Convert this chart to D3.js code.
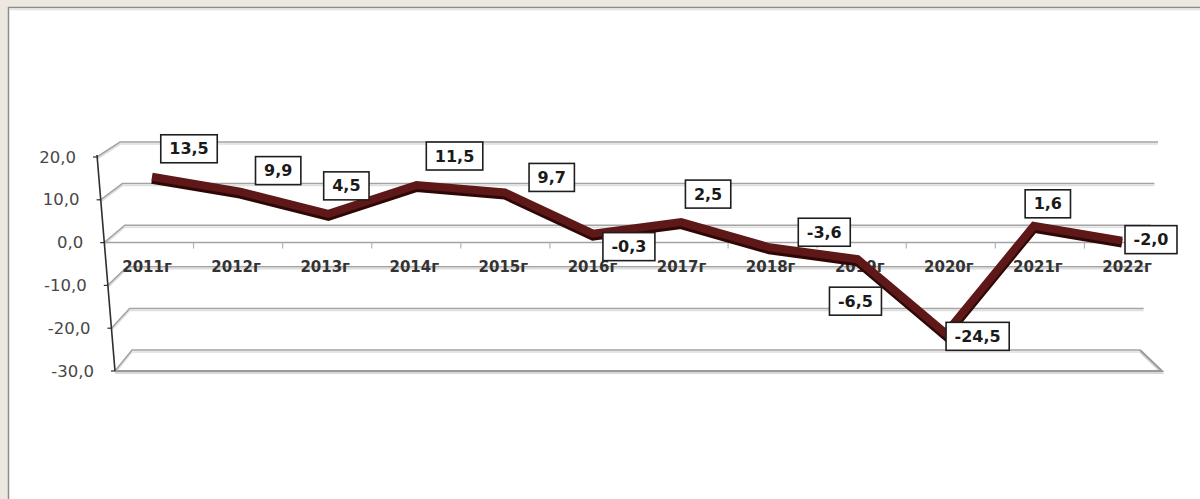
<!DOCTYPE html>
<html>
<head>
<meta charset="utf-8">
<script src="https://cdn.jsdelivr.net/npm/d3@7"></script>
<style>
  html, body { margin: 0; padding: 0; background: #ece8e0; }
  svg { display: block; }
</style>
</head>
<body>
<svg id="chart" width="1200" height="499"></svg>
<script>
// ---- data ----
const categories = ["2011г", "2012г", "2013г", "2014г", "2015г", "2016г",
                    "2017г", "2018г", "2019г", "2020г", "2021г", "2022г"];
const values = [13.5, 9.9, 4.5, 11.5, 9.7, -0.3, 2.5, -3.6, -6.5, -24.5, 1.6, -2.0];
const yTicks = [20, 10, 0, -10, -20, -30];

// ---- layout (label nudges relative to the point) ----
const labelNudge = [[37,-28],[38,-21],[18,-28],[38,-29],[47,-15],[36,13],
                    [27,-28],[55,-15],[-2,42],[32,3],[14,-22],[29,-1]];

const svg = d3.select("#chart");
const fmt = v => d3.format(".1f")(v).replace(".", ",").replace("−", "-");

// chart area frame
svg.append("rect").attr("x", 9).attr("y", 8).attr("width", 1200).attr("height", 500)
  .attr("fill", "#ffffff");
svg.append("line").attr("x1", 8).attr("y1", 7.5).attr("x2", 1200).attr("y2", 7.5)
  .attr("stroke", "#8c8c8c").attr("stroke-width", 1.5);
svg.append("line").attr("x1", 8.5).attr("y1", 7).attr("x2", 8.5).attr("y2", 499)
  .attr("stroke", "#8c8c8c").attr("stroke-width", 1.5);
svg.append("line").attr("x1", 10).attr("y1", 9.5).attr("x2", 1200).attr("y2", 9.5)
  .attr("stroke", "#e4e4e4").attr("stroke-width", 1.5);

// ---- scales (pseudo-3D: front plane, back wall, mid plane for the series) ----
const dom = [-30, 20];
const yFront = d3.scaleLinear().domain(dom).range([371, 157]);
const yBack  = d3.scaleLinear().domain(dom).range([350, 142]);
const yMid   = d3.scaleLinear().domain(dom).range([356, 150]);
const xFrontL = d3.scaleLinear().domain(dom).range([115, 97]);
const xBackL  = d3.scaleLinear().domain(dom).range([132, 120]);
const xBackR  = d3.scaleLinear().domain(dom).range([1140, 1158]);
const xFrontR = d3.scaleLinear().domain(dom).range([1162, 1180]);
const xLine  = d3.scalePoint().domain(categories).range([152, 1122]);
const xLabel = d3.scalePoint().domain(categories).range([147, 1127]);

const grid = svg.append("g");
// back-wall gridlines with their diagonal to the front axis
yTicks.forEach(v => {
  const pts = [[xFrontL(v), yFront(v)], [xBackL(v), yBack(v)], [xBackR(v), yBack(v)]];
  grid.append("path").attr("d", d3.line()(pts.map(p => [p[0], p[1] + 2])))
    .attr("fill", "none").attr("stroke", "#dedede").attr("stroke-width", 1.5);
  grid.append("path").attr("d", d3.line()(pts))
    .attr("fill", "none").attr("stroke", "#a3a3a3").attr("stroke-width", 1.5);
});
// floor front edge and right side
const vMin = dom[0];
const floorPts = [[xFrontL(vMin), yFront(vMin)], [xFrontR(vMin), yFront(vMin)], [xBackR(vMin), yBack(vMin)]];
grid.append("path").attr("d", d3.line()(floorPts.map(p => [p[0], p[1] + 2])))
  .attr("fill", "none").attr("stroke", "#d8d8d8").attr("stroke-width", 2);
grid.append("path").attr("d", d3.line()(floorPts))
  .attr("fill", "none").attr("stroke", "#9a9a9a").attr("stroke-width", 2);

// category axis at zero on the front plane
grid.append("line")
  .attr("x1", xFrontL(0)).attr("y1", yFront(0)).attr("x2", xFrontR(0)).attr("y2", yFront(0))
  .attr("stroke", "#a3a3a3").attr("stroke-width", 1.5);
const step = xLabel.step();
categories.slice(1).forEach(c => {
  const x = xLabel(c) - step / 2 + 2;
  grid.append("line").attr("x1", x).attr("x2", x)
    .attr("y1", yFront(0)).attr("y2", yFront(0) + 6)
    .attr("stroke", "#b5b5b5").attr("stroke-width", 1.2);
});

// value axis (slanted front edge)
grid.append("line")
  .attr("x1", xFrontL(dom[1])).attr("y1", yFront(dom[1]) - 2)
  .attr("x2", xFrontL(dom[0])).attr("y2", yFront(dom[0]))
  .attr("stroke", "#2e2e2e").attr("stroke-width", 1.6);
yTicks.forEach(v => {
  grid.append("line")
    .attr("x1", xFrontL(v) - 4).attr("x2", xFrontL(v))
    .attr("y1", yFront(v)).attr("y2", yFront(v))
    .attr("stroke", "#2e2e2e").attr("stroke-width", 1.2);
});

// y tick labels
svg.append("g").selectAll("text").data(yTicks).join("text")
  .attr("x", d => xFrontL(d) - 21)
  .attr("y", d => yFront(d) + 1)
  .attr("text-anchor", "end")
  .attr("dominant-baseline", "middle")
  .attr("font-family", "DejaVu Sans, Verdana, sans-serif")
  .attr("font-size", 16.5)
  .attr("fill", "#474747")
  .text(d => fmt(d));

// category labels
svg.append("g").selectAll("text").data(categories).join("text")
  .attr("x", d => xLabel(d))
  .attr("y", 267.5)
  .attr("text-anchor", "middle")
  .attr("dominant-baseline", "middle")
  .attr("font-family", "DejaVu Sans, Verdana, sans-serif")
  .attr("font-weight", "bold")
  .attr("font-size", 15)
  .attr("fill", "#333333")
  .text(d => d);

// series line (3D ribbon look)
const pts = categories.map((c, i) => [xLine(c), yMid(values[i])]);
const lineGen = d3.line();
svg.append("path").attr("d", lineGen(pts.map(p => [p[0], p[1] + 2.5])))
  .attr("fill", "none").attr("stroke", "#2f0707").attr("stroke-width", 9)
  .attr("stroke-linejoin", "miter").attr("stroke-miterlimit", 2.2).attr("stroke-linecap", "butt");
svg.append("path").attr("d", lineGen(pts))
  .attr("fill", "none").attr("stroke", "#5e1818").attr("stroke-width", 8)
  .attr("stroke-linejoin", "miter").attr("stroke-miterlimit", 2.2).attr("stroke-linecap", "butt");

// data labels
const lab = svg.append("g");
values.forEach((v, i) => {
  const cx = xLine(categories[i]) + labelNudge[i][0];
  const cy = yMid(v) + labelNudge[i][1];
  const g = lab.append("g");
  const rect = g.append("rect").attr("fill", "#ffffff")
    .attr("stroke", "#1e1e1e").attr("stroke-width", 1.6);
  const t = g.append("text")
    .attr("x", cx).attr("y", cy + 1)
    .attr("text-anchor", "middle")
    .attr("dominant-baseline", "middle")
    .attr("font-family", "DejaVu Sans, Verdana, sans-serif")
    .attr("font-weight", "bold")
    .attr("font-size", 16)
    .attr("fill", "#1a1a1a")
    .text(fmt(v));
  const w = t.node().getComputedTextLength() + 17;
  rect.attr("x", cx - w / 2).attr("y", cy - 14).attr("width", w).attr("height", 28);
});
</script>
</body>
</html>
